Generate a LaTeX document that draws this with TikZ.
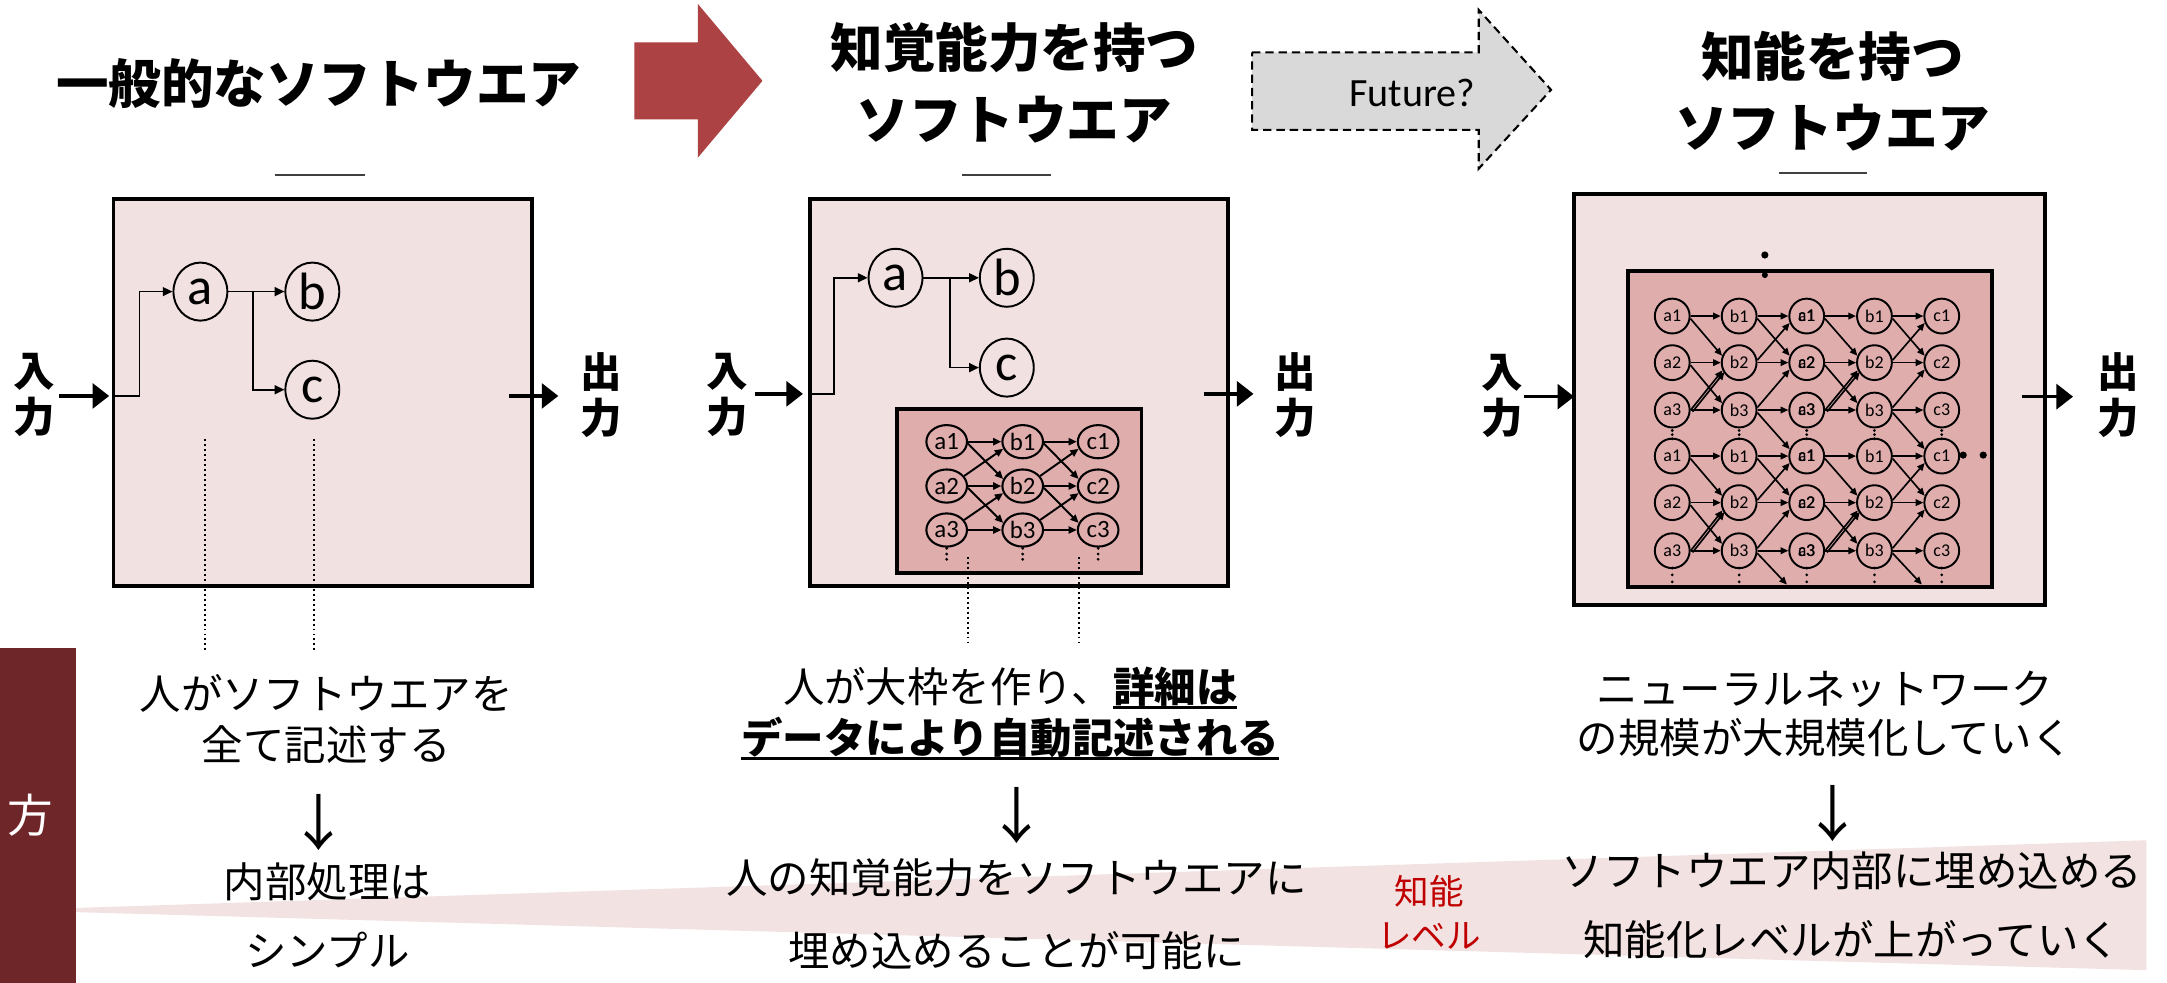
\documentclass[tikz,border=0pt]{standalone}
\usepackage{fontspec}
\setmainfont{Noto Sans CJK JP}
\newfontfamily\lat{Carlito}
\usetikzlibrary{arrows.meta,shapes.geometric}
\definecolor{boxpink}{RGB}{242,225,225}
\definecolor{netpink}{RGB}{224,173,173}
\definecolor{bandpink}{RGB}{242,226,226}
\definecolor{sidered}{RGB}{110,38,41}
\definecolor{arrred}{RGB}{173,66,68}
\definecolor{futgray}{RGB}{217,217,217}
\definecolor{txtred}{RGB}{192,0,0}
\definecolor{linegray}{RGB}{64,64,64}
\newcommand\myul[1]{\setbox0\hbox{#1}\rlap{\rule[-2.4pt]{\wd0}{1.1pt}}\box0}
\begin{document}
\begin{tikzpicture}[x=0.5pt,y=-0.5pt,
  title/.style={font=\bfseries\fontsize{19}{26}\selectfont, align=center, inner sep=0pt},
  iolab/.style={font=\bfseries\fontsize{15}{16.75}\selectfont, align=center, inner sep=0pt},
  panel/.style={draw=black, line width=1.2pt, fill=boxpink},
  netbox/.style={draw=black, line width=1.2pt, fill=netpink},
  shortline/.style={draw=linegray, line width=0.7pt},
  big/.style={ellipse, draw=black, line width=0.7pt, fill=boxpink, minimum width=19.5pt, minimum height=21pt, inner sep=0pt, font=\lat\fontsize{19}{19}\selectfont},
  ntwo/.style={ellipse, draw=black, line width=0.75pt, fill=netpink, minimum width=14.7pt, minimum height=12pt, inner sep=0pt, font=\lat\fontsize{9}{9}\selectfont},
  nthree/.style={circle, draw=black, line width=0.7pt, fill=netpink, minimum size=12.6pt, inner sep=0pt, font=\lat\fontsize{6.5}{6.5}\selectfont},
  conn/.style={line width=0.6pt, -{Triangle[length=3.5pt,width=3.2pt]}},
  ioarrow/.style={line width=1.2pt, -{Triangle[length=6pt,width=9pt]}},
  natwo/.style={line width=0.7pt, -{Triangle[length=3pt,width=2.6pt]}},
  nathree/.style={line width=0.6pt, -{Triangle[length=2.8pt,width=2.4pt]}},
  dots/.style={line width=0.7pt, dash pattern=on 0.7pt off 1.1pt},
  downarr/.style={font=\fontsize{22}{22}\selectfont, inner sep=0pt},
  ]
\fill[white] (0,0) rectangle (1568,711);
\path[use as bounding box] (0,0) rectangle (1568,711);

% level band and side bar
\fill[bandpink] (55,657) -- (1553,608) -- (1553,702) -- (55,660) -- cycle;
\fill[sidered] (0,469) rectangle (55,711);
\node[font=\fontsize{16.5}{16.5}\selectfont, text=white, inner sep=0pt] (hou) at (22,590) {方};

% titles
\node[title] (t1) at (230.6,60.4) {一般的なソフトウエア};
\node[title] (t2) at (734,60) {知覚能力を持つ\\ソフトウエア};
\node[title] (t3) at (1326,66) {知能を持つ\\ソフトウエア};

% big arrows
\fill[arrred] (459,30.6) -- (505,30.6) -- (505,2.9) -- (551.7,58.5) -- (505,114) -- (505,86.4) -- (459,86.4) -- cycle;
\draw[fill=futgray, line width=0.75pt, dash pattern=on 3pt off 1.8pt] (906,37.9) -- (1070,37.9) -- (1070,7.2) -- (1122.3,65) -- (1070,122) -- (1070,94) -- (906,94) -- cycle;
\node[font=\lat\fontsize{14.5}{14.5}\selectfont, inner sep=0pt] (fut) at (1022,67) {Future?};

% short lines
\draw[shortline] (199,126.6) -- (264,126.6);
\draw[shortline] (696,126.6) -- (760.6,126.6);
\draw[shortline] (1287,125) -- (1351,125);

% ================= panel 1
\draw[panel] (82,144) rectangle (385,424);
\node[big] (pa) at (145,211) {a};
\node[big] (pb) at (226,211) {b};
\node[big] (pc) at (226,282) {c};
\coordinate (p1in) at (82,286.5);
\coordinate (p1j) at (101,286.5);
\coordinate (p1br) at (183,211);
\draw[conn] (p1in) -- (p1j) |- (pa.west);
\draw[conn] (pa.east) -- (pb.west);
\draw[conn] (p1br) |- (pc.west);
\coordinate (p1i0) at (43,286.5);
\coordinate (p1i1) at (79,286.5);
\draw[ioarrow] (p1i0) -- (p1i1);
\coordinate (p1o0) at (368,286.5);
\coordinate (p1o1) at (404,286.5);
\draw[ioarrow] (p1o0) -- (p1o1);
\node[iolab] (p1inl) at (25,285.8) {入\\力};
\node[iolab] (p1outl) at (435,285.8) {出\\力};
\coordinate (p1d1a) at (148,318); \coordinate (p1d1b) at (148,470);
\coordinate (p1d2a) at (227.5,318); \coordinate (p1d2b) at (227.5,470);
\draw[dots] (p1d1a) -- (p1d1b);
\draw[dots] (p1d2a) -- (p1d2b);

% ================= panel 2
\draw[panel] (586,144) rectangle (888.6,424);
\node[big] (qa) at (648,201) {a};
\node[big] (qb) at (728.5,201) {b};
\node[big] (qc) at (728.5,266) {c};
\coordinate (p2in) at (586,285);
\coordinate (p2j) at (603.5,285);
\coordinate (p2br) at (687.5,201);
\draw[conn] (p2in) -- (p2j) |- (qa.west);
\draw[conn] (qa.east) -- (qb.west);
\draw[conn] (p2br) |- (qc.west);
\coordinate (p2i0) at (546,285);
\coordinate (p2i1) at (581,285);
\draw[ioarrow] (p2i0) -- (p2i1);
\coordinate (p2o0) at (871,285);
\coordinate (p2o1) at (907,285);
\draw[ioarrow] (p2o0) -- (p2o1);
\node[iolab] (p2inl) at (526.5,285.8) {入\\力};
\node[iolab] (p2outl) at (937,285.8) {出\\力};
\draw[netbox] (649,296) rectangle (826,414.5);
\foreach \c/\x/\l in {1/685/a,2/740/b,3/794.6/c}{
  \foreach \r/\y in {1/319.6,2/351.7,3/383.5}{
    \node[ntwo] (q-\c-\r) at (\x,\y) {\l\r};
  }
  \foreach \yy in {396.8,400.9,404.7} \fill (\x,\yy) circle (0.55pt);
}
\foreach \s/\t in {1/2,2/3}{
  \foreach \r in {1,2,3} \draw[natwo] (q-\s-\r.east) -- (q-\t-\r.west);
  \draw[natwo] (q-\s-1.-5) -- (q-\t-2.160);
  \draw[natwo] (q-\s-2.-5) -- (q-\t-3.160);
  \draw[natwo] (q-\s-2.30) -- (q-\t-1.200);
  \draw[natwo] (q-\s-3.30) -- (q-\t-2.200);
}
\coordinate (p2d1a) at (700.5,403); \coordinate (p2d1b) at (700.5,465);
\coordinate (p2d2a) at (780.6,403); \coordinate (p2d2b) at (780.6,465);
\draw[dots] (p2d1a) -- (p2d1b);
\draw[dots] (p2d2a) -- (p2d2b);

% ================= panel 3
\draw[draw=black, line width=1.45pt, fill=boxpink] (1139,140.4) rectangle (1480,437.8);
\draw[draw=black, line width=1.4pt, fill=netpink] (1178,196) rectangle (1441.5,424.5);
\foreach \c/\x/\l in {1/1210/a,2/1258.4/b,4/1356.3/b,5/1405/c}{
  \foreach \r/\y/\i in {1/228.7/1,2/262.4/2,3/296.7/3,4/330/1,5/363.7/2,6/398.5/3}{
    \node[nthree] (m-\c-\r) at (\x,\y) {\l\i};
  }
}
\foreach \r/\y/\i in {1/228.7/1,2/262.4/2,3/296.7/3,4/330/1,5/363.7/2,6/398.5/3}{
  \node[nthree] (m-3-\r) at (1307.3,\y) {\makebox[0pt]{a\i}\makebox[0pt]{c\i}};
}
\foreach \x in {1210,1258.4,1307.3,1356.3,1405}{
  \foreach \yy in {311.5,314.5,317.5,411,416,421} \fill (\x,\yy) circle (0.55pt);
}
% horizontal arrows
\foreach \s/\t in {1/2,2/3,3/4,4/5}{
  \foreach \r in {1,...,6} \draw[nathree] (m-\s-\r.east) -- (m-\t-\r.west);
}
% pattern A
\foreach \s/\t in {1/2,3/4}{
  \foreach \r/\rr in {1/2,2/3,4/5,5/6} \draw[nathree] (m-\s-\r.-8) -- (m-\t-\rr.158);
  \foreach \r/\rr in {3/2,6/5}{
    \draw[nathree] (m-\s-\r.east) -- (m-\t-\rr.205);
    \draw[nathree, transform canvas={shift={(0.7pt,-0.6pt)}}] (m-\s-\r.east) -- (m-\t-\rr.205);
  }
}
% pattern B
\foreach \s/\t in {2/3,4/5}{
  \foreach \r/\rr in {1/2,3/4,4/5} \draw[nathree] (m-\s-\r.-8) -- (m-\t-\rr.158);
  \foreach \r/\rr in {2/1,3/2,5/4,6/5} \draw[nathree] (m-\s-\r.8) -- (m-\t-\rr.202);
}
\coordinate (fe1) at (1293,423);
\coordinate (fe2) at (1390.6,423);
\draw[nathree] (m-2-6.-8) -- (fe1);
\draw[nathree] (m-4-6.-8) -- (fe2);
\fill (1277,184.5) circle (1.3pt);
\fill (1277,199) circle (1.1pt);
\fill (1420.5,329.3) circle (1.3pt);
\fill (1435,329.3) circle (1.3pt);
\coordinate (p3i0) at (1102.5,287);
\coordinate (p3i1) at (1139,287);
\draw[ioarrow] (p3i0) -- (p3i1);
\coordinate (p3o0) at (1463,287);
\coordinate (p3o1) at (1500,287);
\draw[ioarrow] (p3o0) -- (p3o1);
\node[iolab] (p3inl) at (1087,286.5) {入\\力};
\node[iolab] (p3outl) at (1533,285.8) {出\\力};

% ================= texts
\node[font=\fontsize{15}{18.5}\selectfont, align=center, inner sep=0pt] (l1) at (236,520.5) {人がソフトウエアを\\全て記述する};
\node[downarr] (l2) at (231,595) {↓};
\node[font=\fontsize{15}{25}\selectfont, align=center, inner sep=0pt] (l3) at (237,662) {内部処理は\\シンプル};

\node[font=\fontsize{15}{18.5}\selectfont, align=center, inner sep=0pt] (m1) at (731,516.5) {人が大枠を作り、\myul{\bfseries 詳細は}\\\myul{\bfseries データにより自動記述される}};
\node[downarr] (m2) at (736,590) {↓};
\node[font=\fontsize{15}{26.5}\selectfont, align=center, inner sep=0pt] (m3) at (735.5,661.5) {人の知覚能力をソフトウエアに\\埋め込めることが可能に};

\node[font=\fontsize{15}{17.5}\selectfont, align=center, inner sep=0pt] (r1) at (1320.5,516.5) {ニューラルネットワーク\\の規模が大規模化していく};
\node[downarr] (r2) at (1326,589) {↓};
\node[font=\fontsize{15}{25}\selectfont, align=center, inner sep=0pt] (r3) at (1340,655) {ソフトウエア内部に埋め込める\\知能化レベルが上がっていく};

\node[font=\fontsize{12.5}{16}\selectfont, align=center, text=txtred, inner sep=0pt] (lvl) at (1034,660) {知能\\レベル};
\end{tikzpicture}
\end{document}
